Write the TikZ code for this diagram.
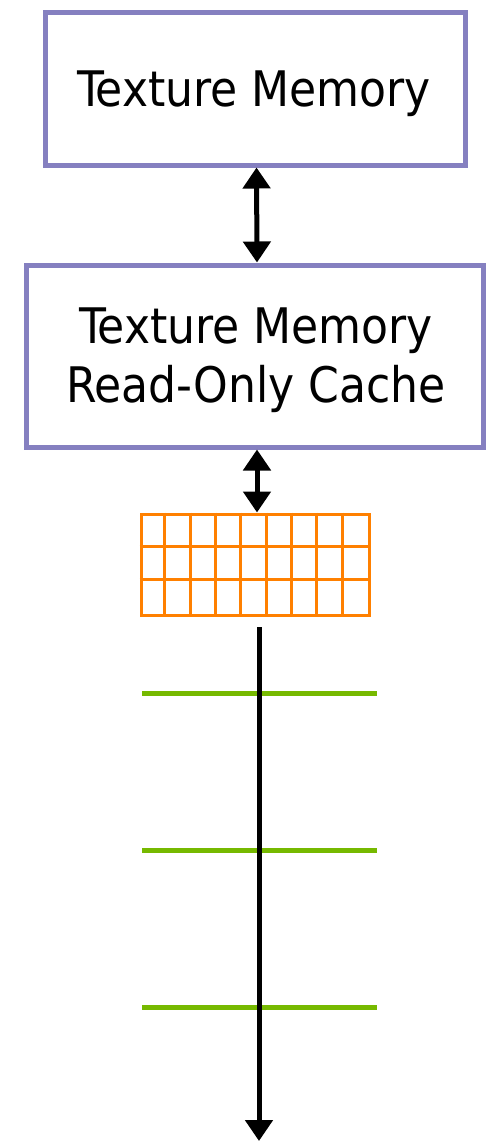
\documentclass[tikz,border=0pt]{standalone}
\usepackage{fontspec}
\setmainfont{DejaVu Sans Condensed}
\usetikzlibrary{arrows.meta,shadows,calc}
\definecolor{boxpurple}{HTML}{8580C0}
\definecolor{gridorange}{HTML}{FF8000}
\definecolor{nvgreen}{HTML}{76B900}
\tikzset{
  membox/.style={draw=boxpurple, line width=5pt, fill=white, inner sep=0pt,
    drop shadow={shadow xshift=2pt, shadow yshift=-3pt, opacity=0.25}},
  boxtext/.style={font=\fontsize{49}{59}\selectfont, align=center},
  link/.style={line width=5pt, {Triangle[width=27pt,length=21pt]}-{Triangle[width=27pt,length=21pt]}},
  flow/.style={line width=5pt, -{Triangle[width=27pt,length=21pt]}},
  cell/.style={draw=gridorange, line width=3pt},
  tick/.style={draw=nvgreen, line width=5pt}
}
\begin{document}
\begin{tikzpicture}[x=1pt,y=-1pt]
\useasboundingbox (0,0) rectangle (487,1141);
\node[membox, minimum width=420pt, minimum height=153pt] (tm) at (255.5,88.5) {};
\node[boxtext] (tmlabel) at (254,94) {Texture Memory};
\node[membox, minimum width=457pt, minimum height=182pt] (cache) at (254.5,356) {};
\node[boxtext] (cachelabel) at (256,360) {Texture Memory\\Read-Only Cache};
\node[draw=gridorange, line width=3pt, minimum width=228pt, minimum height=101pt, inner sep=0pt] (grid) at (255,564.5) {};
\foreach \i in {1,...,8} {
  \draw[cell] ($(grid.north west)+(\i*25.33,0)$) -- ($(grid.south west)+(\i*25.33,0)$);
}
\draw[cell] ($(grid.north west)+(0,33.67)$) -- ($(grid.north east)+(0,33.67)$);
\draw[cell] ($(grid.north west)+(0,67.33)$) -- ($(grid.north east)+(0,67.33)$);
\draw[link] ([xshift=1pt]tm.south) -- ([xshift=2.5pt]cache.north);
\draw[link] ([xshift=2.5pt]cache.south) -- ([xshift=2pt]grid.north);
\coordinate (flowstart) at (259,627);
\coordinate (flowend) at (259,1141);
\foreach \y/\n in {693/a,850/b,1007/c} {
  \coordinate (l\n) at (142,\y);
  \coordinate (r\n) at (377,\y);
  \draw[tick] (l\n) -- (r\n);
}
\draw[flow] (flowstart) -- (flowend);
\end{tikzpicture}
\end{document}
